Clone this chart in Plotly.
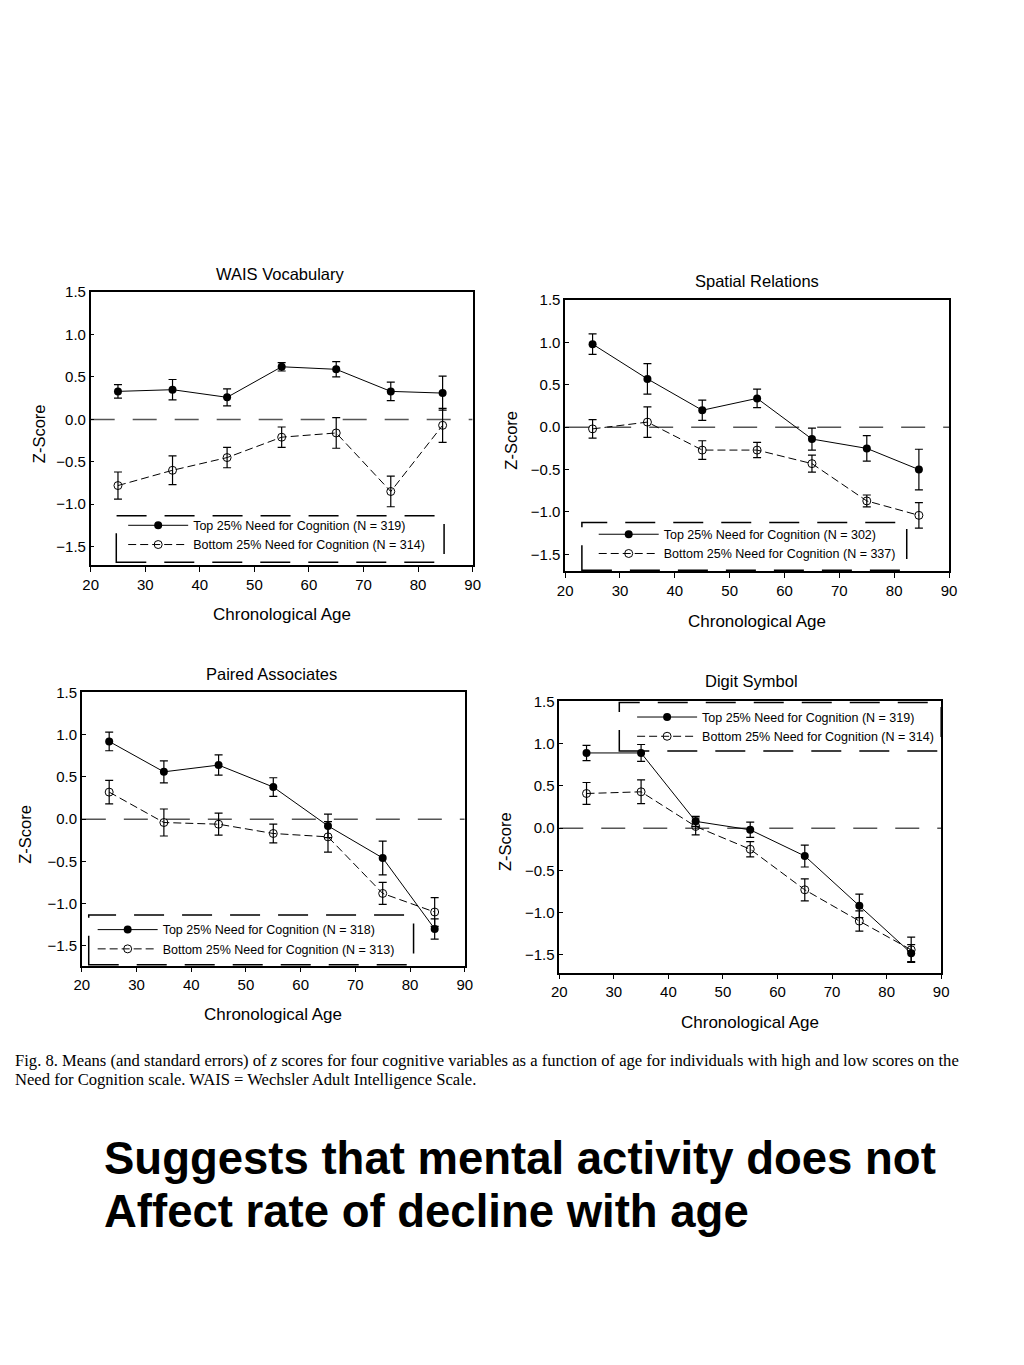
import plotly.graph_objects as go

W, H = 1024, 1365

ages = [25, 35, 45, 55, 65, 75, 84.5]

# WAIS Vocabulary
vocab_top = [0.33, 0.35, 0.26, 0.62, 0.59, 0.33, 0.31]
vocab_top_se = [0.08, 0.12, 0.10, 0.05, 0.09, 0.11, 0.20]
vocab_bot = [-0.78, -0.60, -0.45, -0.21, -0.16, -0.85, -0.07]
vocab_bot_se = [0.16, 0.17, 0.12, 0.12, 0.18, 0.18, 0.20]

# Spatial Relations
spat_top = [0.98, 0.57, 0.20, 0.34, -0.14, -0.25, -0.50]
spat_top_se = [0.12, 0.18, 0.12, 0.11, 0.13, 0.15, 0.24]
spat_bot = [-0.02, 0.06, -0.27, -0.27, -0.43, -0.87, -1.04]
spat_bot_se = [0.11, 0.18, 0.11, 0.09, 0.10, 0.07, 0.15]

# Paired Associates
pair_top = [0.92, 0.56, 0.64, 0.38, -0.08, -0.46, -1.30]
pair_top_se = [0.11, 0.13, 0.12, 0.11, 0.14, 0.20, 0.12]
pair_bot = [0.32, -0.04, -0.06, -0.17, -0.21, -0.88, -1.10]
pair_bot_se = [0.14, 0.16, 0.13, 0.11, 0.18, 0.13, 0.17]

# Digit Symbol
digit_top = [0.89, 0.89, 0.08, -0.02, -0.33, -0.92, -1.48]
digit_top_se = [0.09, 0.10, 0.06, 0.09, 0.13, 0.14, 0.10]
digit_bot = [0.41, 0.43, 0.02, -0.25, -0.73, -1.10, -1.44]
digit_bot_se = [0.13, 0.14, 0.10, 0.09, 0.13, 0.12, 0.15]

titles = ["WAIS Vocabulary", "Spatial Relations", "Paired Associates", "Digit Symbol"]
n_top = [319, 302, 318, 319]
n_bot = [314, 337, 313, 314]
x_ticks = [20, 30, 40, 50, 60, 70, 80, 90]
y_ticks = [-1.5, -1.0, -0.5, 0.0, 0.5, 1.0, 1.5]

caption_lines = [
    "Fig. 8. Means (and standard errors) of <i>z</i> scores for four cognitive variables as a "
    "function of age for individuals with high and low scores on the",
    "Need for Cognition scale. WAIS = Wechsler Adult Intelligence Scale.",
]
headline_lines = ["Suggests that mental activity does not", "Affect rate of decline with age"]

FONT = "Liberation Sans, Arial, sans-serif"
SERIF = "Liberation Serif, Times New Roman, serif"

# pixel boxes: (left, right, top, bottom), y-range bottom
panels = [
    dict(box=(84, 472, 285, 560), ymin=-1.72, title_xy=(277, 267), xlab_y=610, ylab_x=31,
         top=vocab_top, tse=vocab_top_se, bot=vocab_bot, bse=vocab_bot_se,
         leg=(117, 505), frame=(110, 443, 510, 557)),
    dict(box=(566, 956, 293, 566), ymin=-1.70, title_xy=(761, 274), xlab_y=617, ylab_x=511,
         top=spat_top, tse=spat_top_se, bot=spat_bot, bse=spat_bot_se,
         leg=(595, 514), frame=(583, 913, 517, 565)),
    dict(box=(75, 464, 688, 963), ymin=-1.735, title_xy=(268, 669), xlab_y=1012, ylab_x=17,
         top=pair_top, tse=pair_top_se, bot=pair_bot, bse=pair_bot_se,
         leg=(86, 912), frame=(82, 412, 912, 962)),
    dict(box=(560, 948, 697, 970), ymin=-1.71, title_xy=(755, 676), xlab_y=1020, ylab_x=505,
         top=digit_top, tse=digit_top_se, bot=digit_bot, bse=digit_bot_se,
         leg=(634, 698), frame=(621, 948, 698, 747)),
]

fig = go.Figure()
annotations = []
shapes = []


def px_x(x):
    return x / W


def px_y(y):
    return 1 - y / H


for i, p in enumerate(panels):
    k = "" if i == 0 else str(i + 1)
    xa, ya = "xaxis" + k, "yaxis" + k
    xr, yr = "x" + k, "y" + k
    legname = "legend" + k
    l, r, t, b = p["box"]
    fig.update_layout({
        xa: dict(domain=[px_x(l), px_x(r)], range=[20, 90], tickvals=x_ticks,
                 showgrid=False, zeroline=False, showline=True, linecolor="black",
                 linewidth=1.5, mirror=True, ticks="outside", ticklen=5, tickcolor="black",
                 tickfont=dict(family=FONT, size=15, color="black"), anchor=yr),
        ya: dict(domain=[px_y(b), px_y(t)], range=[p["ymin"], 1.5], tickvals=y_ticks,
                 tickformat=".1f", showgrid=False, zeroline=False, showline=True,
                 linecolor="black", linewidth=1.5, mirror=True, ticks="inside", ticklen=4,
                 tickcolor="black", tickfont=dict(family=FONT, size=15, color="black"),
                 anchor=xr),
    })
    # zero reference line
    shapes.append(dict(type="line", xref=xr, yref=yr, x0=20, x1=90, y0=0, y1=0,
                       line=dict(color="#555555", width=1.5, dash="24px,18px"), layer="below"))
    fig.add_trace(go.Scatter(
        x=ages, y=p["top"], xaxis=xr, yaxis=yr, mode="lines+markers",
        name=f"Top 25% Need for Cognition (N = {n_top[i]})", legend=legname,
        line=dict(color="black", width=1),
        marker=dict(symbol="circle", size=8, color="black"),
        error_y=dict(type="data", array=p["tse"], color="black", thickness=1.2, width=4)))
    fig.add_trace(go.Scatter(
        x=ages, y=p["bot"], xaxis=xr, yaxis=yr, mode="lines+markers",
        name=f"Bottom 25% Need for Cognition (N = {n_bot[i]})", legend=legname,
        line=dict(color="black", width=1, dash="8px,4px"),
        marker=dict(symbol="circle-open", size=8, color="black", line=dict(width=1)),
        error_y=dict(type="data", array=p["bse"], color="black", thickness=1.2, width=4)))
    lx, ly = p["leg"]
    fig.update_layout({legname: dict(x=px_x(lx), y=px_y(ly), xanchor="left", yanchor="top",
                                     bgcolor="rgba(255,255,255,0)", borderwidth=0,
                                     itemwidth=60, tracegroupgap=0,
                                     font=dict(family=FONT, size=12.5, color="black"))})
    fl, fr, ft, fb = p["frame"]
    shapes.append(dict(type="rect", xref="paper", yref="paper",
                       x0=px_x(fl), x1=px_x(fr), y0=px_y(fb), y1=px_y(ft),
                       line=dict(color="black", width=1.5, dash="30px,18px")))
    tx, ty = p["title_xy"]
    annotations.append(dict(text=titles[i], x=px_x(tx), y=px_y(ty), xref="paper", yref="paper",
                            xanchor="center", yanchor="middle", showarrow=False,
                            font=dict(family=FONT, size=16.5, color="black")))
    annotations.append(dict(text="Chronological Age", x=px_x((l + r) / 2), y=px_y(p["xlab_y"]),
                            xref="paper", yref="paper", xanchor="center", yanchor="middle",
                            showarrow=False, font=dict(family=FONT, size=17, color="black")))
    annotations.append(dict(text="Z-Score", x=px_x(p["ylab_x"]), y=px_y((t + b) / 2 + 5),
                            xref="paper", yref="paper", xanchor="center", yanchor="middle",
                            showarrow=False, textangle=-90,
                            font=dict(family=FONT, size=16.5, color="black")))

for j, line in enumerate(caption_lines):
    annotations.append(dict(text=line, x=px_x(5), y=px_y(1058 + 20 * j), xref="paper",
                            yref="paper", xanchor="left", yanchor="middle", showarrow=False,
                            font=dict(family=SERIF, size=16.6, color="black")))

for j, line in enumerate(headline_lines):
    annotations.append(dict(text=f"<b>{line}</b>", x=px_x(95), y=px_y(1157 + 53 * j),
                            xref="paper", yref="paper", xanchor="left", yanchor="middle",
                            showarrow=False, font=dict(family=FONT, size=45.5, color="black")))

fig.update_layout(width=W, height=H, margin=dict(l=0, r=0, t=0, b=0),
                  paper_bgcolor="white", plot_bgcolor="white",
                  annotations=annotations, shapes=shapes, showlegend=True)

fig.write_html("out.html", config={"displayModeBar": False},
               post_script="document.body.style.margin='0';document.body.style.overflow='hidden';")
